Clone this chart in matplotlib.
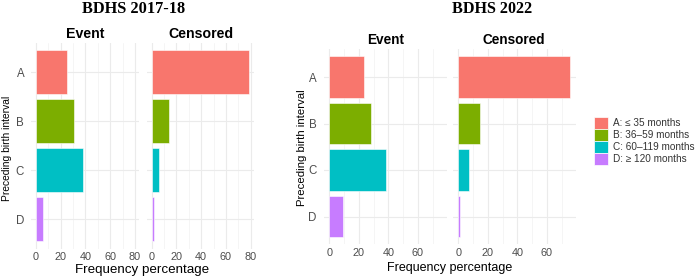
import matplotlib
matplotlib.use("Agg")
import matplotlib.pyplot as plt
from matplotlib.patches import Patch

categories = ["A", "B", "C", "D"]
legend_labels = ["A: \u2264 35 months", "B: 36\u201359 months", "C: 60\u2013119 months", "D: \u2265 120 months"]
colors = ["#F8766D", "#7CAE00", "#00BFC4", "#C77CFF"]

event_2017 = [25.4, 30.4, 38.2, 6.0]
censored_2017 = [79.0, 13.8, 5.6, 1.6]
event_2022 = [23.4, 28.4, 38.7, 9.5]
censored_2022 = [75.9, 15.0, 7.1, 1.2]

titles = ["BDHS 2017-18", "BDHS 2022"]
panel_names = ["Event", "Censored"]

W, H = 700, 276
fig = plt.figure(figsize=(W / 100, H / 100), dpi=100)
SANS = ["Liberation Sans", "DejaVu Sans"]
SERIF = ["Liberation Serif", "DejaVu Serif"]


def ax_at(left, top, right, bottom):
    return fig.add_axes([left / W, 1 - bottom / H, (right - left) / W, (bottom - top) / H])


def draw_panel(ax, vals, xlim, xticks, name, show_y, strip_size, tick_size):
    y = list(range(len(categories)))
    ax.set_facecolor("white")
    ax.set_xlim(*xlim)
    ax.set_ylim(len(categories) - 1 + 0.6, -0.6)
    ax.set_xticks(xticks)
    ax.set_xticks([t + 10 for t in xticks if t + 10 < xlim[1]], minor=True)
    ax.set_yticks(y)
    ax.grid(True, which="major", color="#EBEBEB", linewidth=0.8)
    ax.grid(True, which="minor", axis="x", color="#F2F2F2", linewidth=0.5)
    ax.set_axisbelow(True)
    ax.barh(y, vals, height=0.9, color=colors, edgecolor="white", linewidth=0.4)
    for s in ax.spines.values():
        s.set_visible(False)
    ax.tick_params(which="both", length=0)
    ax.tick_params(axis="x", labelsize=tick_size, labelcolor="#4D4D4D", pad=2.5)
    ax.tick_params(axis="y", labelsize=8.3, labelcolor="#4D4D4D", pad=5)
    ax.set_xticklabels([str(t) for t in xticks], family=SANS)
    if show_y:
        ax.set_yticklabels(categories, family=SANS)
    else:
        ax.set_yticklabels([])
    ax.set_title(name, fontsize=strip_size, fontweight="bold", family=SANS, pad=3.5)


# ---- Left chart: BDHS 2017-18 ----
xl1 = (-3.95, 82.95)
ticks1 = [0, 20, 40, 60, 80]
a1 = ax_at(31.1, 42.6, 138.6, 248.6)
a2 = ax_at(146.8, 42.6, 254.3, 248.6)
draw_panel(a1, event_2017, xl1, ticks1, panel_names[0], True, 10.2, 7.8)
draw_panel(a2, censored_2017, xl1, ticks1, panel_names[1], False, 10.2, 7.8)

# ---- Right chart: BDHS 2022 ----
xl2 = (-3.8, 79.6)
ticks2 = [0, 20, 40, 60]
b1 = ax_at(323.7, 49.1, 446.7, 244.4)
b2 = ax_at(452.7, 49.1, 575.7, 244.4)
draw_panel(b1, event_2022, xl2, ticks2, panel_names[0], True, 9.8, 7.8)
draw_panel(b2, censored_2022, xl2, ticks2, panel_names[1], False, 9.8, 7.8)

# Titles
fig.text(134 / W, 1 - 9 / H, titles[0], ha="center", va="center", fontsize=11.8,
         fontweight="bold", family=SERIF)
fig.text(492 / W, 1 - 9 / H, titles[1], ha="center", va="center", fontsize=11.6,
         fontweight="bold", family=SERIF)

# Axis titles
fig.text(142.5 / W, 0.5 / H, "Frequency percentage", ha="center", va="bottom",
         fontsize=9.6, family=SANS)
fig.text(449.5 / W, 1.5 / H, "Frequency percentage", ha="center", va="bottom",
         fontsize=9.0, family=SANS)
fig.text(7.5 / W, 1 - 148 / H, "Preceding birth interval", ha="center", va="center",
         rotation=90, fontsize=7.4, family=SANS)
fig.text(302 / W, 1 - 148 / H, "Preceding birth interval", ha="center", va="center",
         rotation=90, fontsize=8.2, family=SANS)

# Legend
handles = [Patch(facecolor=c, edgecolor="white", linewidth=0.5) for c in colors]
fig.legend(handles, legend_labels, loc="upper left",
           bbox_to_anchor=(594 / W, 1 - 117 / H), frameon=False,
           prop={"family": SANS, "size": 7.2}, handlelength=1.4, handleheight=1.4,
           labelspacing=0.05, handletextpad=0.5, borderpad=0, borderaxespad=0,
           labelcolor="#333333")

fig.savefig("out.png", dpi=100, facecolor="white")
